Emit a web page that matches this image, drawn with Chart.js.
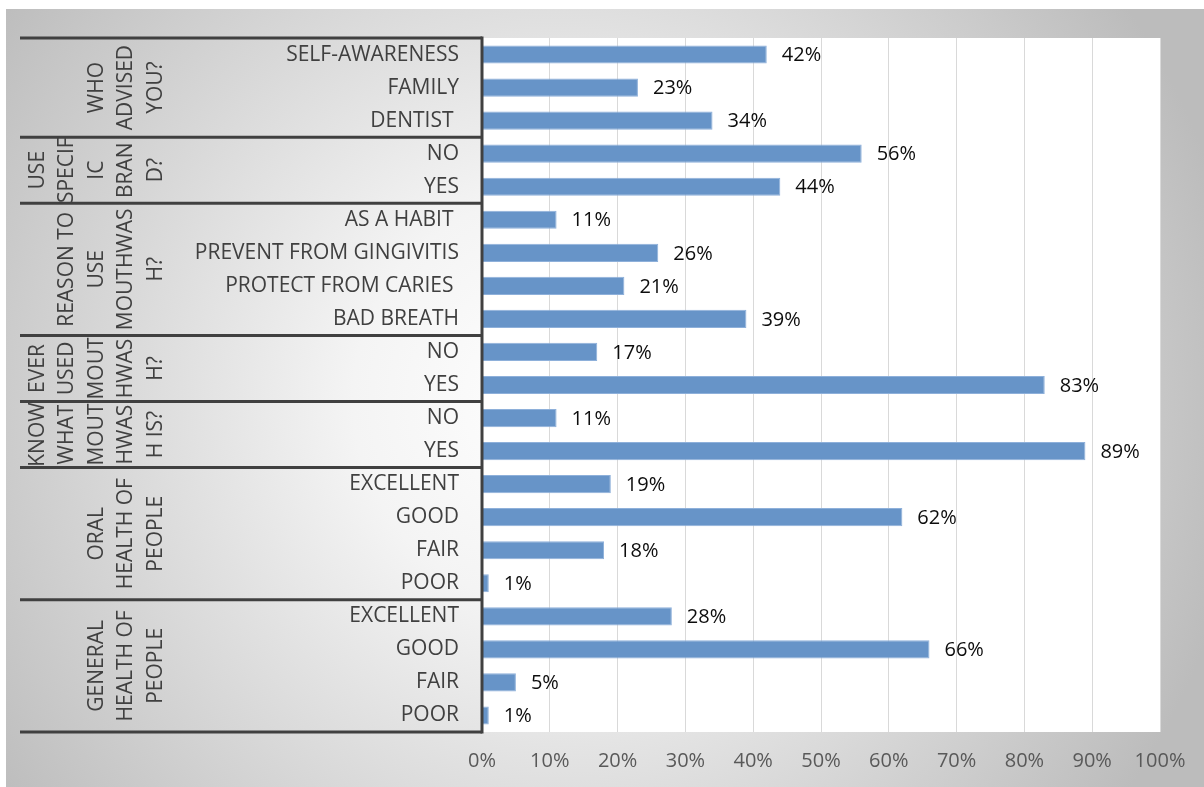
<!DOCTYPE html>
<html>
<head>
  <title>Mouthwash Survey</title>
  <script src="https://cdn.jsdelivr.net/npm/chart.js"></script>
  <style>
    body { margin: 0; background: #fff; }
    #chart { display: block; }
  </style>
</head>
<body>
  <canvas id="chart" width="1204" height="787"></canvas>

  <script>
    const categories = [
      "SELF-AWARENESS", "FAMILY", "DENTIST ",
      "NO", "YES",
      "AS A HABIT ", "PREVENT FROM GINGIVITIS", "PROTECT FROM CARIES ", "BAD BREATH",
      "NO", "YES",
      "NO", "YES",
      "EXCELLENT", "GOOD", "FAIR", "POOR",
      "EXCELLENT", "GOOD", "FAIR", "POOR"
    ];
    const values = [42, 23, 34, 56, 44, 11, 26, 21, 39, 17, 83, 11, 89, 19, 62, 18, 1, 28, 66, 5, 1];
    const groupLines = [
      ["WHO", "ADVISED", "YOU?"],
      ["USE", "SPECIF", "IC", "BRAN", "D?"],
      ["REASON TO", "USE", "MOUTHWAS", "H?"],
      ["EVER", "USED", "MOUT", "HWAS", "H?"],
      ["KNOW", "WHAT", "MOUT", "HWAS", "H IS?"],
      ["ORAL", "HEALTH OF", "PEOPLE"],
      ["GENERAL", "HEALTH OF", "PEOPLE"]
    ];
    const groupSizes = [3, 2, 4, 2, 2, 4, 4];
    const xTicks = [0, 10, 20, 30, 40, 50, 60, 70, 80, 90, 100];

    const FONT = "'Open Sans', sans-serif";
    const TEXT = "#404040";

    // background gradient + white plot area
    const backdrop = {
      id: "backdrop",
      beforeDraw(chart) {
        const { ctx, chartArea } = chart;
        ctx.save();
        const g = ctx.createRadialGradient(560, 400, 0, 560, 400, 690);
        g.addColorStop(0, "#ffffff");
        g.addColorStop(0.3, "#f4f4f4");
        g.addColorStop(1, "#bcbcbc");
        ctx.fillStyle = g;
        ctx.fillRect(6, 9, chart.width - 6, chart.height - 9);
        ctx.fillStyle = "#ffffff";
        ctx.fillRect(chartArea.left, chartArea.top, chartArea.right - chartArea.left, chartArea.bottom - chartArea.top);
        ctx.restore();
      }
    };

    // group labels and the table lines on the category axis
    const groupAxis = {
      id: "groupAxis",
      afterDraw(chart) {
        const { ctx, chartArea } = chart;
        const y = chart.scales.y;
        const half = (y.getPixelForValue(1) - y.getPixelForValue(0)) / 2;
        ctx.save();
        ctx.strokeStyle = "#404040";
        ctx.lineWidth = 3;
        let start = 0;
        const bounds = [y.getPixelForValue(0) - half];
        groupSizes.forEach(n => {
          start += n;
          bounds.push(y.getPixelForValue(start - 1) + half);
        });
        bounds.forEach(b => {
          ctx.beginPath();
          ctx.moveTo(20, b);
          ctx.lineTo(chartArea.left, b);
          ctx.stroke();
        });
        ctx.beginPath();
        ctx.moveTo(chartArea.left, bounds[0] - 1.5);
        ctx.lineTo(chartArea.left, bounds[bounds.length - 1] + 1.5);
        ctx.stroke();

        ctx.fillStyle = TEXT;
        ctx.font = "21px " + FONT;
        ctx.textAlign = "center";
        ctx.textBaseline = "middle";
        groupLines.forEach((lines, i) => {
          const cy = (bounds[i] + bounds[i + 1]) / 2;
          lines.forEach((t, j) => {
            const cx = 156 - (lines.length - 1 - j) * 29.5;
            ctx.save();
            ctx.translate(cx, cy);
            ctx.rotate(-Math.PI / 2);
            ctx.fillText(t, 0, 0);
            ctx.restore();
          });
        });
        ctx.restore();
      }
    };

    // value labels after each bar
    const valueLabels = {
      id: "valueLabels",
      afterDatasetsDraw(chart) {
        const { ctx } = chart;
        const meta = chart.getDatasetMeta(0);
        ctx.save();
        ctx.fillStyle = "#0d0d0d";
        ctx.font = "20px " + FONT;
        ctx.textAlign = "left";
        ctx.textBaseline = "middle";
        meta.data.forEach((bar, i) => {
          ctx.fillText(values[i] + "%", bar.x + 15, bar.y + 1);
        });
        ctx.restore();
      }
    };

    new Chart(document.getElementById("chart"), {
      type: "bar",
      data: {
        labels: categories,
        datasets: [{
          data: values,
          backgroundColor: "#6794c8",
          borderColor: "#8eb0da",
          borderWidth: 1,
          barPercentage: 0.55,
          categoryPercentage: 1
        }]
      },
      options: {
        indexAxis: "y",
        responsive: false,
        animation: false,
        layout: { padding: { top: 38, right: 44, left: 0, bottom: 0 } },
        plugins: { legend: { display: false }, tooltip: { enabled: false } },
        scales: {
          x: {
            min: 0,
            max: 100,
            afterBuildTicks: s => { s.ticks = xTicks.map(v => ({ value: v })); },
            afterFit: s => { s.height = 55; },
            border: { display: false },
            grid: { color: "#d9d9d9", drawTicks: false },
            ticks: {
              padding: 17,
              color: "#595959",
              font: { family: FONT, size: 20 },
              callback: v => v + "%"
            }
          },
          y: {
            afterFit: s => { s.width = 482; },
            border: { display: false },
            grid: { display: false, drawTicks: false },
            ticks: {
              padding: 23,
              color: TEXT,
              crossAlign: "near",
              font: { family: FONT, size: 21 }
            }
          }
        }
      },
      plugins: [backdrop, groupAxis, valueLabels]
    });
  </script>
</body>
</html>
